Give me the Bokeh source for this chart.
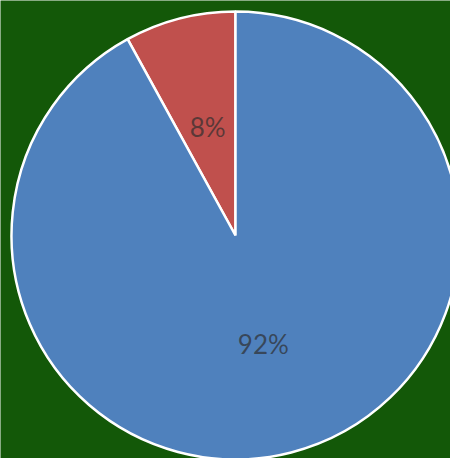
import numpy as np
from bokeh.plotting import figure
from bokeh.models import Range1d, ColumnDataSource
from bokeh.core.properties import value
from bokeh.embed import file_html
from bokeh.resources import INLINE

categories = ["A", "B"]
shares = [8, 92]
colors = ["#c0504d", "#4f81bd"]
labels = ["8%", "92%"]

W, H = 450, 458
cx, cy, R = 235, H - 235, 224

frac = np.array(shares, dtype=float) / sum(shares)
cum = np.concatenate([[0], np.cumsum(frac)])
start = np.pi / 2 + cum[:-1] * 2 * np.pi
end = np.pi / 2 + cum[1:] * 2 * np.pi
mid = (start + end) / 2

src = ColumnDataSource(dict(cat=categories, start=start, end=end, color=colors,
                            lx=cx + 0.5 * R * np.cos(mid), ly=cy + 0.5 * R * np.sin(mid),
                            label=labels))

p = figure(width=W, height=H, x_range=Range1d(0, W), y_range=Range1d(0, H),
           output_backend="svg", toolbar_location=None, min_border=0)
p.axis.visible = False
p.grid.visible = False
p.outline_line_color = None
p.background_fill_color = "#135808"
p.border_fill_color = "#135808"

p.wedge(x=cx, y=cy, radius=R, start_angle="start", end_angle="end",
        fill_color="color", line_color="white", line_width=2.5, source=src)
p.text(x="lx", y="ly", text="label", source=src, text_align="center",
       text_baseline="middle", text_font=value("Lato"), text_font_size="26px",
       text_color="#2e2e2e", text_alpha=0.7)

open("out.html", "w").write(file_html(p, INLINE))
